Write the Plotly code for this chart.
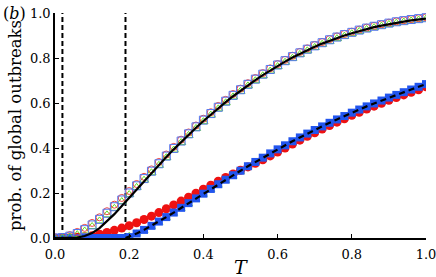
import plotly.graph_objects as go

T = [0.00, 0.02, 0.04, 0.06, 0.08, 0.10, 0.12, 0.14, 0.16, 0.18,
     0.20, 0.22, 0.24, 0.26, 0.28, 0.30, 0.32, 0.34, 0.36, 0.38,
     0.40, 0.42, 0.44, 0.46, 0.48, 0.50, 0.52, 0.54, 0.56, 0.58,
     0.60, 0.62, 0.64, 0.66, 0.68, 0.70, 0.72, 0.74, 0.76, 0.78,
     0.80, 0.82, 0.84, 0.86, 0.88, 0.90, 0.92, 0.94, 0.96, 0.98, 1.00]

# upper branch: simulations (open markers) and theory (solid line)
upper_red = [0.000, 0.004, 0.013, 0.027, 0.045, 0.067, 0.092, 0.119, 0.148, 0.178,
             0.209, 0.240, 0.272, 0.305, 0.338, 0.371, 0.405, 0.437, 0.469, 0.500,
             0.530, 0.559, 0.587, 0.614, 0.640, 0.664, 0.688, 0.711, 0.733, 0.754,
             0.773, 0.792, 0.810, 0.827, 0.843, 0.858, 0.871, 0.884, 0.896, 0.907,
             0.917, 0.926, 0.935, 0.943, 0.950, 0.957, 0.963, 0.968, 0.973, 0.977, 0.981]
upper_blue = [0.000, 0.002, 0.008, 0.020, 0.037, 0.058, 0.083, 0.110, 0.139, 0.169,
              0.200, 0.232, 0.264, 0.297, 0.330, 0.364, 0.398, 0.431, 0.463, 0.494,
              0.524, 0.553, 0.581, 0.608, 0.634, 0.659, 0.683, 0.706, 0.728, 0.749,
              0.769, 0.788, 0.806, 0.823, 0.839, 0.854, 0.868, 0.881, 0.893, 0.904,
              0.914, 0.924, 0.933, 0.941, 0.948, 0.955, 0.961, 0.966, 0.971, 0.975, 0.979]
upper_green = [0.000, 0.000, 0.004, 0.015, 0.031, 0.051, 0.076, 0.103, 0.132, 0.162,
               0.193, 0.225, 0.257, 0.290, 0.323, 0.357, 0.391, 0.424, 0.456, 0.487,
               0.517, 0.546, 0.574, 0.601, 0.627, 0.652, 0.676, 0.699, 0.721, 0.742,
               0.762, 0.781, 0.799, 0.816, 0.832, 0.847, 0.861, 0.874, 0.886, 0.897,
               0.908, 0.918, 0.927, 0.935, 0.942, 0.949, 0.955, 0.960, 0.965, 0.969, 0.973]
upper_theory = [0.000, 0.000, 0.000, 0.002, 0.009, 0.022, 0.044, 0.073, 0.106, 0.142,
                0.179, 0.216, 0.253, 0.289, 0.325, 0.360, 0.394, 0.427, 0.459, 0.490,
                0.520, 0.549, 0.577, 0.604, 0.630, 0.655, 0.679, 0.702, 0.724, 0.745,
                0.765, 0.784, 0.802, 0.819, 0.835, 0.850, 0.864, 0.877, 0.889, 0.900,
                0.910, 0.920, 0.929, 0.937, 0.944, 0.951, 0.957, 0.962, 0.967, 0.971, 0.975]

# lower branch: simulations (filled markers) and theory (dashed line)
lower_red = [0.000, 0.000, 0.001, 0.003, 0.006, 0.010, 0.017, 0.025, 0.034, 0.044,
             0.055, 0.068, 0.082, 0.097, 0.113, 0.130, 0.147, 0.164, 0.181, 0.199,
             0.217, 0.235, 0.252, 0.269, 0.285, 0.301, 0.316, 0.332, 0.348, 0.365,
             0.382, 0.400, 0.418, 0.435, 0.452, 0.468, 0.484, 0.500, 0.515, 0.530,
             0.545, 0.559, 0.573, 0.586, 0.599, 0.612, 0.624, 0.636, 0.648, 0.659, 0.672]
lower_blue = [0.000, 0.000, 0.000, 0.000, 0.000, 0.000, 0.000, 0.000, 0.000, 0.000,
              0.004, 0.020, 0.036, 0.054, 0.073, 0.093, 0.113, 0.134, 0.155, 0.176,
              0.197, 0.218, 0.239, 0.259, 0.279, 0.299, 0.319, 0.338, 0.357, 0.376,
              0.394, 0.412, 0.430, 0.447, 0.464, 0.480, 0.496, 0.512, 0.527, 0.542,
              0.557, 0.571, 0.585, 0.598, 0.611, 0.624, 0.636, 0.648, 0.660, 0.672, 0.684]
lower_green = [0.000, 0.000, 0.000, 0.000, 0.000, 0.000, 0.000, 0.000, 0.000, 0.000,
               0.010, 0.020, 0.032, 0.050, 0.069, 0.089, 0.109, 0.130, 0.151, 0.172,
               0.193, 0.214, 0.235, 0.255, 0.275, 0.295, 0.315, 0.334, 0.353, 0.372,
               0.390, 0.408, 0.426, 0.443, 0.460, 0.476, 0.492, 0.508, 0.523, 0.538,
               0.553, 0.567, 0.581, 0.594, 0.607, 0.620, 0.632, 0.644, 0.656, 0.667, 0.678]
lower_theory_T = [0.19, 0.20, 0.22, 0.24, 0.26, 0.28, 0.30, 0.32, 0.34, 0.36, 0.38,
                  0.40, 0.42, 0.44, 0.46, 0.48, 0.50, 0.52, 0.54, 0.56, 0.58,
                  0.60, 0.62, 0.64, 0.66, 0.68, 0.70, 0.72, 0.74, 0.76, 0.78,
                  0.80, 0.82, 0.84, 0.86, 0.88, 0.90, 0.92, 0.94, 0.96, 0.98, 1.00]
lower_theory = [0.000, 0.006, 0.020, 0.036, 0.054, 0.073, 0.093, 0.113, 0.134, 0.155, 0.176,
                0.197, 0.218, 0.239, 0.259, 0.279, 0.299, 0.319, 0.338, 0.357, 0.376,
                0.394, 0.412, 0.430, 0.447, 0.464, 0.480, 0.496, 0.512, 0.527, 0.542,
                0.557, 0.571, 0.585, 0.598, 0.611, 0.624, 0.636, 0.648, 0.660, 0.672, 0.684]

thresholds = [0.02, 0.19]
x_ticks = [0.0, 0.2, 0.4, 0.6, 0.8, 1.0]
y_ticks = [0.0, 0.2, 0.4, 0.6, 0.8, 1.0]
tick_text = ["0.0", "0.2", "0.4", "0.6", "0.8", "1.0"]

FONT = "DejaVu Serif"
fig = go.Figure()

for xv in thresholds:
    fig.add_trace(go.Scatter(x=[xv, xv], y=[0, 1], mode="lines",
                             line=dict(color="black", width=2, dash="5px,3px"),
                             showlegend=False, hoverinfo="skip"))

# lower branch markers
fig.add_trace(go.Scatter(x=T, y=lower_green, mode="markers",
                         marker=dict(symbol="triangle-up", size=8, color="#66dd22"), showlegend=False))
fig.add_trace(go.Scatter(x=T, y=lower_red, mode="markers",
                         marker=dict(symbol="circle", size=9, color="#ee1111"), showlegend=False))
fig.add_trace(go.Scatter(x=T, y=lower_blue, mode="markers",
                         marker=dict(symbol="square", size=8, color="#2255ee"), showlegend=False))

# upper branch markers
fig.add_trace(go.Scatter(x=T, y=upper_green, mode="markers",
                         marker=dict(symbol="triangle-up-open", size=8, color="#66dd22", line=dict(width=1)),
                         showlegend=False))
fig.add_trace(go.Scatter(x=T, y=upper_red, mode="markers",
                         marker=dict(symbol="circle-open", size=7, color="#ee4444", line=dict(width=1)),
                         showlegend=False))
fig.add_trace(go.Scatter(x=T, y=upper_blue, mode="markers",
                         marker=dict(symbol="square-open", size=8, color="#5577ee", line=dict(width=1)),
                         showlegend=False))

# theory lines
fig.add_trace(go.Scatter(x=T, y=upper_theory, mode="lines",
                         line=dict(color="black", width=2.2), showlegend=False))
fig.add_trace(go.Scatter(x=lower_theory_T, y=lower_theory, mode="lines",
                         line=dict(color="black", width=2.2, dash="6px,4px"), showlegend=False))

fig.update_layout(
    width=436, height=277,
    margin=dict(l=55, r=10, t=13, b=39, autoexpand=False),
    paper_bgcolor="white", plot_bgcolor="white",
    font=dict(family=FONT, color="black", size=13),
    xaxis=dict(range=[0, 1], tickvals=x_ticks, ticktext=tick_text, ticks="inside", ticklen=4,
               tickwidth=1, tickcolor="black", showline=True, linecolor="black", linewidth=1.5,
               showgrid=False, zeroline=False, tickfont=dict(family=FONT, size=13),
               ticklabelstandoff=4, ticklabeloverflow="allow", automargin=False),
    yaxis=dict(range=[0, 1], tickvals=y_ticks, ticktext=tick_text, ticks="inside", ticklen=4,
               tickwidth=1, tickcolor="black", showline=True, linecolor="black", linewidth=1.5,
               showgrid=False, zeroline=False, tickfont=dict(family=FONT, size=13),
               automargin=False,
               title=dict(text="prob. of global outbreaks", font=dict(family=FONT, size=16.5), standoff=4)),
    annotations=[
        dict(text="(<i>b</i>)", xref="paper", yref="paper", x=-0.146, y=1.0,
             xanchor="left", yanchor="middle", showarrow=False,
             font=dict(family=FONT, size=16)),
        dict(text="<i>T</i>", xref="paper", yref="paper", x=0.5, y=-0.13,
             xanchor="center", yanchor="middle", showarrow=False,
             font=dict(family=FONT, size=19)),
    ],
)

fig.write_html("out.html", config={"displayModeBar": False},
               post_script="document.body.style.margin='0';document.body.style.overflow='hidden';")
